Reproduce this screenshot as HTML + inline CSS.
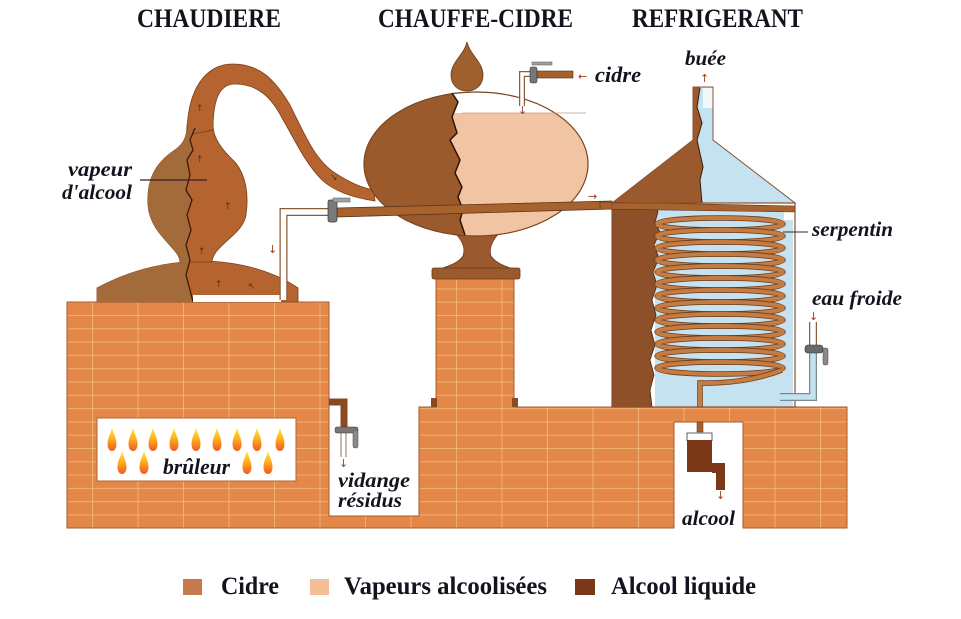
<!DOCTYPE html>
<html>
<head>
<meta charset="utf-8">
<style>
html,body{margin:0;padding:0;background:#fff;}
svg{display:block;}
.t{font-family:"Liberation Serif",serif;font-weight:bold;fill:#14121c;}
.l{font-family:"Liberation Serif",serif;font-weight:bold;font-style:italic;fill:#14121c;}
.a{font-family:"DejaVu Sans",sans-serif;fill:#9a3a20;font-size:11px;}
</style>
</head>
<body>
<svg width="961" height="619" viewBox="0 0 961 619" xmlns="http://www.w3.org/2000/svg">
<defs>
  <pattern id="brick" patternUnits="userSpaceOnUse" x="92" y="315" width="45.5" height="13.3">
    <rect width="45.5" height="13.3" fill="#e4884a"/>
    <rect x="0" y="0" width="45.5" height="1" fill="#f5c98e" opacity="0.6"/>
    <rect x="0" y="0" width="1" height="13.3" fill="#f5c98e" opacity="0.65"/>
  </pattern>
  <linearGradient id="flame" x1="0" y1="0" x2="0" y2="1">
    <stop offset="0" stop-color="#ffe63a"/>
    <stop offset="0.45" stop-color="#ffb21e"/>
    <stop offset="1" stop-color="#ee5a22"/>
  </linearGradient>
  <clipPath id="chL">
    <polygon points="80,130 195,130 190,140 193,150 187,160 190,175 186,190 192,200 187,215 191,230 186,245 190,260 186,275 190,290 193,305 80,305"/>
  </clipPath>
  <clipPath id="ccL">
    <polygon points="350,80 452,80 452,93 458,102 452,117 457,133 450,140 460,160 455,173 462,187 458,197 463,210 460,220 466,240 350,240"/>
  </clipPath>
  <clipPath id="ccTop">
    <rect x="360" y="85" width="240" height="28"/>
  </clipPath>
  <clipPath id="coneL">
    <polygon points="600,80 700,80 700,90 697,107 702,123 697,140 703,167 700,180 702,205 600,205"/>
  </clipPath>
</defs>

<!-- Titles -->
<text class="t" x="137" y="27" font-size="26" textLength="144" lengthAdjust="spacingAndGlyphs">CHAUDIERE</text>
<text class="t" x="378" y="27" font-size="26" textLength="195" lengthAdjust="spacingAndGlyphs">CHAUFFE-CIDRE</text>
<text class="t" x="632" y="27" font-size="26" textLength="171" lengthAdjust="spacingAndGlyphs">REFRIGERANT</text>

<!-- Brick masonry -->
<path d="M67,302 H329 V516 H419 V407 H436 V277 H514 V407 H847 V528 H743 V422 H674 V528 H67 Z" fill="url(#brick)" stroke="#a85a28" stroke-width="1"/>
<rect x="431" y="398" width="6" height="9" fill="#8a4a22"/>
<rect x="512" y="398" width="6" height="9" fill="#8a4a22"/>

<!-- Burner box -->
<rect x="97" y="418" width="199" height="63" fill="#fff" stroke="#b0652e" stroke-width="1"/>
<g fill="url(#flame)">
  <path transform="translate(112,440)" d="M0,-12 C1.5,-6 4.5,-2 4.5,4 C4.5,8.5 2.5,11 0,11 C-2.5,11 -4.5,8.5 -4.5,4 C-4.5,-2 -1.5,-6 0,-12 Z"/>
  <path transform="translate(133,440)" d="M0,-12 C1.5,-6 4.5,-2 4.5,4 C4.5,8.5 2.5,11 0,11 C-2.5,11 -4.5,8.5 -4.5,4 C-4.5,-2 -1.5,-6 0,-12 Z"/>
  <path transform="translate(153,440)" d="M0,-12 C1.5,-6 4.5,-2 4.5,4 C4.5,8.5 2.5,11 0,11 C-2.5,11 -4.5,8.5 -4.5,4 C-4.5,-2 -1.5,-6 0,-12 Z"/>
  <path transform="translate(174,440)" d="M0,-12 C1.5,-6 4.5,-2 4.5,4 C4.5,8.5 2.5,11 0,11 C-2.5,11 -4.5,8.5 -4.5,4 C-4.5,-2 -1.5,-6 0,-12 Z"/>
  <path transform="translate(196,440)" d="M0,-12 C1.5,-6 4.5,-2 4.5,4 C4.5,8.5 2.5,11 0,11 C-2.5,11 -4.5,8.5 -4.5,4 C-4.5,-2 -1.5,-6 0,-12 Z"/>
  <path transform="translate(217,440)" d="M0,-12 C1.5,-6 4.5,-2 4.5,4 C4.5,8.5 2.5,11 0,11 C-2.5,11 -4.5,8.5 -4.5,4 C-4.5,-2 -1.5,-6 0,-12 Z"/>
  <path transform="translate(237,440)" d="M0,-12 C1.5,-6 4.5,-2 4.5,4 C4.5,8.5 2.5,11 0,11 C-2.5,11 -4.5,8.5 -4.5,4 C-4.5,-2 -1.5,-6 0,-12 Z"/>
  <path transform="translate(257,440)" d="M0,-12 C1.5,-6 4.5,-2 4.5,4 C4.5,8.5 2.5,11 0,11 C-2.5,11 -4.5,8.5 -4.5,4 C-4.5,-2 -1.5,-6 0,-12 Z"/>
  <path transform="translate(280,440)" d="M0,-12 C1.5,-6 4.5,-2 4.5,4 C4.5,8.5 2.5,11 0,11 C-2.5,11 -4.5,8.5 -4.5,4 C-4.5,-2 -1.5,-6 0,-12 Z"/>
  <path transform="translate(122,463)" d="M0,-12 C1.5,-6 4.5,-2 4.5,4 C4.5,8.5 2.5,11 0,11 C-2.5,11 -4.5,8.5 -4.5,4 C-4.5,-2 -1.5,-6 0,-12 Z"/>
  <path transform="translate(144,463)" d="M0,-12 C1.5,-6 4.5,-2 4.5,4 C4.5,8.5 2.5,11 0,11 C-2.5,11 -4.5,8.5 -4.5,4 C-4.5,-2 -1.5,-6 0,-12 Z"/>
  <path transform="translate(247,463)" d="M0,-12 C1.5,-6 4.5,-2 4.5,4 C4.5,8.5 2.5,11 0,11 C-2.5,11 -4.5,8.5 -4.5,4 C-4.5,-2 -1.5,-6 0,-12 Z"/>
  <path transform="translate(268,463)" d="M0,-12 C1.5,-6 4.5,-2 4.5,4 C4.5,8.5 2.5,11 0,11 C-2.5,11 -4.5,8.5 -4.5,4 C-4.5,-2 -1.5,-6 0,-12 Z"/>
</g>
<text class="l" x="163" y="474" font-size="22" textLength="67" lengthAdjust="spacingAndGlyphs">brûleur</text>

<!-- CHAUDIERE -->
<g fill="#b6642f" stroke="#7a3e1a" stroke-width="0.8">
  <path d="M97,302 L97,288 C130,270 165,262 200,261 C240,261 275,272 298,288 L298,302 Z"/>
  <path d="M180,262 C180,248 150,235 148,205 C146,175 160,160 175,150 C183,144 187,138 187,125 L213,125 C213,138 222,150 235,162 C246,175 249,195 246,215 C243,235 213,245 212,262 Z"/>
  <path d="M187,135 C187,90 205,64 233,64 C260,64 275,80 290,105 C305,135 315,160 335,173 C350,183 362,188 374,190 L375,201 C355,198 335,192 322,180 C305,163 295,140 282,118 C272,98 258,84 235,84 C220,84 213,98 213,130 Z"/>
</g>
<g fill="#a46b3a" clip-path="url(#chL)">
  <path d="M97,302 L97,288 C130,270 165,262 200,261 C240,261 275,272 298,288 L298,302 Z"/>
  <path d="M180,262 C180,248 150,235 148,205 C146,175 160,160 175,150 C183,144 187,138 187,125 L213,125 C213,138 222,150 235,162 C246,175 249,195 246,215 C243,235 213,245 212,262 Z"/>
</g>
<polyline points="195,128 190,140 193,150 187,160 190,175 186,190 192,200 187,215 191,230 186,245 190,260 186,275 190,290 193,302" fill="none" stroke="#3a1a08" stroke-width="1.3"/>
<rect x="193" y="295" width="88" height="7" fill="#fff"/>
<g class="a" style="fill:#5a2e10;font-size:9px">
  <text x="196" y="111">↑</text>
  <text x="196" y="162">↑</text>
  <text x="224" y="209">↑</text>
  <text x="198" y="254">↑</text>
  <text x="215" y="287">↑</text>
  <text x="248" y="289">↖</text>
  <text x="330" y="180">↘</text>
</g>
<!-- vapeur label -->
<text class="l" x="68" y="176" font-size="21" textLength="64" lengthAdjust="spacingAndGlyphs">vapeur</text>
<text class="l" x="62" y="199" font-size="21" textLength="70" lengthAdjust="spacingAndGlyphs">d'alcool</text>
<line x1="140" y1="180" x2="207" y2="180" stroke="#3a1c30" stroke-width="1.2"/>

<!-- White return pipe from tap to boiler -->
<path d="M283.5,300 V212 H330" fill="none" stroke="#8a5a30" stroke-width="8"/>
<path d="M283.5,300 V212 H330" fill="none" stroke="#fff" stroke-width="5.5"/>
<text class="a" x="268" y="253">↓</text>

<!-- CHAUFFE-CIDRE pedestal -->
<path d="M452,230 C465,242 465,250 463,256 C458,264 445,267 437,270 H516 C508,267 496,264 491,256 C489,250 490,242 502,230 Z" fill="#9a5a2d" stroke="#6a3a1a" stroke-width="0.8"/>
<rect x="432" y="268" width="88" height="11" rx="2" fill="#9a5a2d" stroke="#6a3a1a" stroke-width="0.8"/>
<!-- finial -->
<path d="M467,42 C470,55 483,62 483,75 C483,85 476,91 467,91 C458,91 451,85 451,75 C451,62 464,55 467,42 Z" fill="#a0602e" stroke="#6a3a1a" stroke-width="0.8"/>
<!-- body -->
<ellipse cx="476" cy="164" rx="112" ry="72" fill="#f1c4a4"/>
<ellipse cx="476" cy="164" rx="112" ry="72" fill="#fff" clip-path="url(#ccTop)"/>
<ellipse cx="476" cy="164" rx="112" ry="72" fill="#9b5a2c" clip-path="url(#ccL)"/>
<ellipse cx="476" cy="164" rx="112" ry="72" fill="none" stroke="#7a4422" stroke-width="1.2"/>
<line x1="462" y1="113" x2="586" y2="113" stroke="#c99a7a" stroke-width="0.8"/>
<polyline points="452,93 458,102 452,117 457,133 450,140 460,160 455,173 462,187 458,197 463,210 460,220 465,235" fill="none" stroke="#2e1406" stroke-width="1.5"/>

<!-- Pipe from gooseneck tap through chauffe-cidre to refrigerant -->
<polygon points="337,208 612,201 612,209 337,217" fill="#a8622e" stroke="#5a3016" stroke-width="0.8"/>
<text class="a" x="588" y="200">→</text>

<!-- gooseneck tap -->
<rect x="328" y="200" width="9" height="22" rx="2" fill="#7a7a7a" stroke="#333" stroke-width="0.7"/>
<rect x="333" y="198" width="17" height="4" fill="#a0a0a0" stroke="#555" stroke-width="0.5"/>

<!-- Cidre inlet -->
<rect x="537" y="71" width="36" height="7" fill="#a5602e" stroke="#5a3016" stroke-width="0.6"/>
<path d="M530,74 H522 V106" fill="none" stroke="#8a6040" stroke-width="6"/>
<path d="M530,74 H522 V106" fill="none" stroke="#fff" stroke-width="3.5"/>
<rect x="530" y="67" width="7" height="16" rx="2" fill="#777" stroke="#333" stroke-width="0.6"/>
<rect x="532" y="62" width="20" height="3" fill="#a0a0a0" stroke="#555" stroke-width="0.5"/>
<text class="a" x="518" y="114">↓</text>
<text class="a" x="578" y="80">←</text>
<text class="l" x="595" y="82" font-size="22" textLength="46" lengthAdjust="spacingAndGlyphs">cidre</text>

<!-- REFRIGERANT -->
<path d="M693,87 L713,87 L713,140 L795,203 L612,203 L693,140 Z" fill="#c4e2f0"/>
<rect x="703" y="88" width="9.5" height="20" fill="#f2f9fc"/>
<path d="M693,87 L713,87 L713,140 L795,203 L612,203 L693,140 Z" fill="#9a5a2d" clip-path="url(#coneL)"/>
<path d="M693,87 L713,87 L713,140 L795,203 L612,203 L693,140 Z" fill="none" stroke="#8a5030" stroke-width="1"/>
<polyline points="700,88 697,107 702,123 697,140 703,167 700,180 702,203" fill="none" stroke="#3a1a08" stroke-width="1"/>
<text class="a" x="700" y="82">↑</text>
<text class="l" x="685" y="65" font-size="21" textLength="41" lengthAdjust="spacingAndGlyphs">buée</text>

<!-- tank -->
<rect x="612" y="203" width="183" height="204" fill="#fff"/>
<rect x="655" y="210" width="138" height="197" fill="#c4e2f0"/>
<rect x="784" y="210" width="9" height="10" fill="#fff"/>
<polygon points="612,203 655,203 658,212 655,222 660,232 654,245 659,258 653,272 657,285 652,300 656,315 651,330 655,345 650,360 654,375 650,390 652,407 612,407" fill="#8e5028" stroke="#4a2410" stroke-width="0.8"/>

<!-- coil -->
<g fill="none">
  <ellipse cx="720" cy="224" rx="63" ry="6" stroke="#6a3a1c" stroke-width="5.5"/><ellipse cx="720" cy="224" rx="63" ry="6" stroke="#c47c42" stroke-width="4"/>
  <ellipse cx="720" cy="236" rx="63" ry="6" stroke="#6a3a1c" stroke-width="5.5"/><ellipse cx="720" cy="236" rx="63" ry="6" stroke="#c47c42" stroke-width="4"/>
  <ellipse cx="720" cy="248" rx="63" ry="6" stroke="#6a3a1c" stroke-width="5.5"/><ellipse cx="720" cy="248" rx="63" ry="6" stroke="#c47c42" stroke-width="4"/>
  <ellipse cx="720" cy="260" rx="63" ry="6" stroke="#6a3a1c" stroke-width="5.5"/><ellipse cx="720" cy="260" rx="63" ry="6" stroke="#c47c42" stroke-width="4"/>
  <ellipse cx="720" cy="272" rx="63" ry="6" stroke="#6a3a1c" stroke-width="5.5"/><ellipse cx="720" cy="272" rx="63" ry="6" stroke="#c47c42" stroke-width="4"/>
  <ellipse cx="720" cy="284" rx="63" ry="6" stroke="#6a3a1c" stroke-width="5.5"/><ellipse cx="720" cy="284" rx="63" ry="6" stroke="#c47c42" stroke-width="4"/>
  <ellipse cx="720" cy="296" rx="63" ry="6" stroke="#6a3a1c" stroke-width="5.5"/><ellipse cx="720" cy="296" rx="63" ry="6" stroke="#c47c42" stroke-width="4"/>
  <ellipse cx="720" cy="308" rx="63" ry="6" stroke="#6a3a1c" stroke-width="5.5"/><ellipse cx="720" cy="308" rx="63" ry="6" stroke="#c47c42" stroke-width="4"/>
  <ellipse cx="720" cy="320" rx="63" ry="6" stroke="#6a3a1c" stroke-width="5.5"/><ellipse cx="720" cy="320" rx="63" ry="6" stroke="#c47c42" stroke-width="4"/>
  <ellipse cx="720" cy="332" rx="63" ry="6" stroke="#6a3a1c" stroke-width="5.5"/><ellipse cx="720" cy="332" rx="63" ry="6" stroke="#c47c42" stroke-width="4"/>
  <ellipse cx="720" cy="344" rx="63" ry="6" stroke="#6a3a1c" stroke-width="5.5"/><ellipse cx="720" cy="344" rx="63" ry="6" stroke="#c47c42" stroke-width="4"/>
  <ellipse cx="720" cy="356" rx="63" ry="6" stroke="#6a3a1c" stroke-width="5.5"/><ellipse cx="720" cy="356" rx="63" ry="6" stroke="#c47c42" stroke-width="4"/>
  <ellipse cx="720" cy="368" rx="63" ry="6" stroke="#6a3a1c" stroke-width="5.5"/><ellipse cx="720" cy="368" rx="63" ry="6" stroke="#c47c42" stroke-width="4"/>
  <path d="M782,370 Q745,384 700,383 L700,407" stroke="#6a3a1c" stroke-width="5.5"/>
  <path d="M782,370 Q745,384 700,383 L700,407" stroke="#c47c42" stroke-width="4"/>
</g>
<!-- rim -->
<polygon points="600,202 795,206 795,212 600,209" fill="#a8622e" stroke="#5a3016" stroke-width="0.6"/>
<rect x="612" y="203" width="183" height="204" fill="none" stroke="#8a5030" stroke-width="1.2"/>

<!-- serpentin label -->
<line x1="783" y1="232" x2="808" y2="232" stroke="#2a2a2a" stroke-width="1"/>
<text class="l" x="812" y="236" font-size="21" textLength="81" lengthAdjust="spacingAndGlyphs">serpentin</text>

<!-- eau froide -->
<text class="l" x="812" y="305" font-size="21" textLength="90" lengthAdjust="spacingAndGlyphs">eau froide</text>
<text class="a" x="809" y="320">↓</text>
<path d="M813,322 V346" fill="none" stroke="#8a6040" stroke-width="8"/>
<path d="M813,322 V346" fill="none" stroke="#fff" stroke-width="5.5"/>
<path d="M813,352 V397 H780" fill="none" stroke="#7a8a90" stroke-width="8"/>
<path d="M813,352 V397 H780" fill="none" stroke="#c4e2f0" stroke-width="5.5"/>
<rect x="805" y="345" width="18" height="8" rx="3" fill="#6a6a6a" stroke="#333" stroke-width="0.6"/>
<rect x="823" y="348" width="5" height="17" rx="2" fill="#8a8a8a" stroke="#444" stroke-width="0.5"/>

<!-- alcool notch contents -->
<rect x="697" y="422" width="6" height="10" fill="#a5602e" stroke="#5a3016" stroke-width="0.5"/>
<path d="M687,441 V433 H712 V441" fill="none" stroke="#333" stroke-width="0.8"/>
<rect x="687" y="440" width="25" height="32" fill="#7a3818"/>
<path d="M712,463 H725 V490 H716 V473 H712 Z" fill="#7a3818"/>
<text class="a" x="716" y="499">↓</text>
<text class="l" x="682" y="525" font-size="21" textLength="53" lengthAdjust="spacingAndGlyphs">alcool</text>

<!-- vidange -->
<path d="M329,402 H344 V428" fill="none" stroke="#8a4a20" stroke-width="7"/>
<line x1="341" y1="433" x2="341" y2="457" stroke="#7a5030" stroke-width="0.8"/>
<line x1="346" y1="433" x2="346" y2="457" stroke="#7a5030" stroke-width="0.8"/>
<rect x="335" y="427" width="23" height="6" rx="2" fill="#777" stroke="#333" stroke-width="0.5"/>
<rect x="353" y="430" width="5" height="18" rx="2" fill="#8a8a8a" stroke="#444" stroke-width="0.5"/>
<text class="a" x="339" y="467">↓</text>
<text class="l" x="338" y="487" font-size="21" textLength="72" lengthAdjust="spacingAndGlyphs">vidange</text>
<text class="l" x="338" y="507" font-size="21" textLength="64" lengthAdjust="spacingAndGlyphs">résidus</text>

<!-- Legend -->
<rect x="183" y="579" width="19" height="16" fill="#c97a4c"/>
<text class="t" x="221" y="594" font-size="25" textLength="58" lengthAdjust="spacingAndGlyphs">Cidre</text>
<rect x="310" y="579" width="19" height="16" fill="#f3bd98"/>
<text class="t" x="344" y="594" font-size="25" textLength="203" lengthAdjust="spacingAndGlyphs">Vapeurs alcoolisées</text>
<rect x="575" y="579" width="20" height="16" fill="#7a3818"/>
<text class="t" x="611" y="594" font-size="25" textLength="145" lengthAdjust="spacingAndGlyphs">Alcool liquide</text>
</svg>
</body>
</html>
